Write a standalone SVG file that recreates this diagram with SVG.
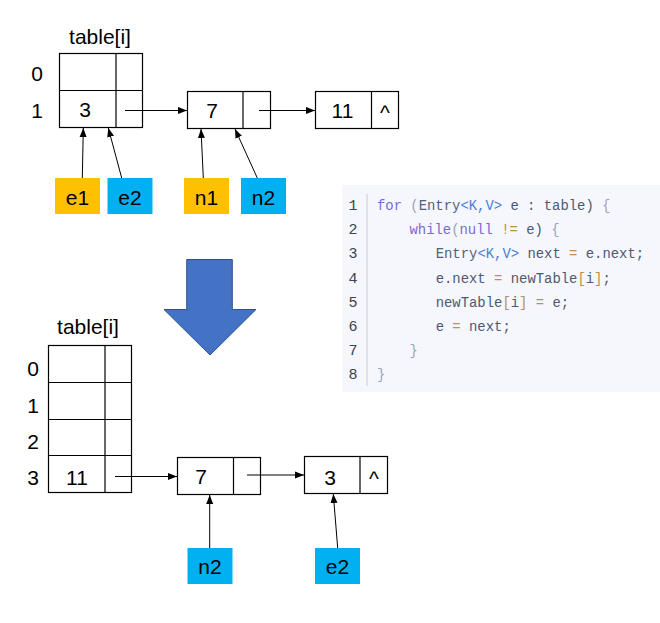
<svg xmlns="http://www.w3.org/2000/svg" width="660" height="623" viewBox="0 0 660 623">
  <style>
    .cell { fill: #ffffff; stroke: #000000; stroke-width: 1.2; }
    .div { stroke: #000000; stroke-width: 1.2; fill: none; }
    .lbl { font-family: "Liberation Sans", Arial, sans-serif; font-size: 21px; fill: #000000; text-anchor: middle; }
    .gold { fill: #FFC000; }
    .cyan { fill: #00B0F0; }
    .conn { stroke: #000000; stroke-width: 1; fill: none; marker-end: url(#head); }
    .code { font-family: "Liberation Mono", "DejaVu Sans Mono", monospace; font-size: 13.9px; fill: #4f5873; }
    .ln { font-family: "Liberation Mono", "DejaVu Sans Mono", monospace; font-size: 15px; fill: #3b4252; text-anchor: middle; }
    .kw { fill: #7a6ad4; }
    .ty { fill: #55607a; }
    .gen { fill: #4c7fd6; }
    .op { fill: #b8924e; }
    .br { fill: #9aa3b8; }
  </style>
  <defs>
    <marker id="head" markerUnits="userSpaceOnUse" markerWidth="10" markerHeight="8" refX="9" refY="4" orient="auto">
      <path d="M0,0.5 L9,4 L0,7.5 Z" fill="#000000"/>
    </marker>
  </defs>

  <!-- top: original table with two buckets -->
  <g id="table-top">
    <text class="lbl" x="100" y="44">table[i]</text>
    <text class="lbl" x="37" y="81">0</text>
    <text class="lbl" x="37" y="117.5">1</text>
    <rect class="cell" x="59.5" y="53.5" width="83" height="74"/>
    <line class="div" x1="59.5" y1="90.5" x2="142.5" y2="90.5"/>
    <line class="div" x1="116" y1="53.5" x2="116" y2="127.5"/>
    <text class="lbl" x="85" y="117">3</text>
  </g>
  <g id="node-top-7">
    <rect class="cell" x="187.5" y="91.5" width="83" height="37"/>
    <line class="div" x1="243" y1="91.5" x2="243" y2="128.5"/>
    <text class="lbl" x="212" y="118">7</text>
  </g>
  <g id="node-top-11">
    <rect class="cell" x="315.5" y="91.5" width="83" height="37"/>
    <line class="div" x1="371.5" y1="91.5" x2="371.5" y2="128.5"/>
    <text class="lbl" x="342.5" y="118">11</text>
    <text class="lbl" x="385" y="120">^</text>
  </g>
  <g id="ptr-e1">
    <rect class="gold" x="55" y="178" width="45" height="36"/>
    <text class="lbl" x="77.5" y="205">e1</text>
  </g>
  <g id="ptr-e2">
    <rect class="cyan" x="107.5" y="178" width="45" height="36"/>
    <text class="lbl" x="130" y="205">e2</text>
  </g>
  <g id="ptr-n1">
    <rect class="gold" x="184" y="178" width="45" height="36"/>
    <text class="lbl" x="206.5" y="205">n1</text>
  </g>
  <g id="ptr-n2">
    <rect class="cyan" x="241" y="178" width="45" height="36"/>
    <text class="lbl" x="263.5" y="205">n2</text>
  </g>

  <!-- transition arrow -->
  <g id="down-arrow">
    <polygon points="186.7,259.5 232.3,259.5 232.3,309.5 256,309.5 210,355 164,309.5 186.7,309.5" fill="#4472C4" stroke="#2F528F" stroke-width="1"/>
  </g>

  <!-- bottom: resized table -->
  <g id="table-bottom">
    <text class="lbl" x="88" y="334">table[i]</text>
    <text class="lbl" x="33" y="376">0</text>
    <text class="lbl" x="33" y="413">1</text>
    <text class="lbl" x="33" y="449">2</text>
    <text class="lbl" x="33" y="485">3</text>
    <rect class="cell" x="48.5" y="345.5" width="83" height="147"/>
    <line class="div" x1="48.5" y1="382.5" x2="131.5" y2="382.5"/>
    <line class="div" x1="48.5" y1="419.5" x2="131.5" y2="419.5"/>
    <line class="div" x1="48.5" y1="455.5" x2="131.5" y2="455.5"/>
    <line class="div" x1="105" y1="345.5" x2="105" y2="492.5"/>
    <text class="lbl" x="77" y="485">11</text>
  </g>
  <g id="node-bottom-7">
    <rect class="cell" x="177.5" y="457.5" width="83" height="37"/>
    <line class="div" x1="233.5" y1="457.5" x2="233.5" y2="494.5"/>
    <text class="lbl" x="201" y="484">7</text>
  </g>
  <g id="node-bottom-3">
    <rect class="cell" x="304.5" y="456.5" width="83" height="37"/>
    <line class="div" x1="360" y1="456.5" x2="360" y2="493.5"/>
    <text class="lbl" x="330" y="485">3</text>
    <text class="lbl" x="374" y="486">^</text>
  </g>
  <g id="ptr-n2-bottom">
    <rect class="cyan" x="187.5" y="548" width="45" height="36"/>
    <text class="lbl" x="210" y="574">n2</text>
  </g>
  <g id="ptr-e2-bottom">
    <rect class="cyan" x="315" y="548" width="45" height="36"/>
    <text class="lbl" x="337.5" y="574">e2</text>
  </g>

  <!-- connectors -->
  <g id="connectors">
    <line class="conn" x1="125" y1="110.5" x2="187" y2="110.5"/>
    <line class="conn" x1="259" y1="110.5" x2="315" y2="110.5"/>
    <line class="conn" x1="82.3" y1="178" x2="83.3" y2="128"/>
    <line class="conn" x1="121.7" y1="178" x2="108.3" y2="128"/>
    <line class="conn" x1="203.3" y1="178" x2="201" y2="129"/>
    <line class="conn" x1="257.3" y1="178" x2="235" y2="129"/>
    <line class="conn" x1="115" y1="476.5" x2="177" y2="476.5"/>
    <line class="conn" x1="247" y1="475" x2="304" y2="475"/>
    <line class="conn" x1="209.7" y1="548" x2="209.7" y2="495"/>
    <line class="conn" x1="337.7" y1="548" x2="333.3" y2="494"/>
  </g>

  <!-- code listing -->
  <g id="code-block">
    <rect x="342" y="185" width="318" height="207" fill="#F5F7FC"/>
    <line x1="367" y1="194" x2="367" y2="386" stroke="#c8ccd6" stroke-width="1"/>
    <text class="ln" x="353" y="210">1</text>
    <text class="ln" x="353" y="234.2">2</text>
    <text class="ln" x="353" y="258.3">3</text>
    <text class="ln" x="353" y="282.5">4</text>
    <text class="ln" x="353" y="306.6">5</text>
    <text class="ln" x="353" y="330.8">6</text>
    <text class="ln" x="353" y="354.9">7</text>
    <text class="ln" x="353" y="379">8</text>
    <text class="code" x="377" y="210" xml:space="preserve"><tspan class="kw">for</tspan><tspan class="br"> (</tspan><tspan class="ty">Entry</tspan><tspan class="gen">&lt;K,V&gt;</tspan> e : table) <tspan class="br">{</tspan></text>
    <text class="code" x="409.5" y="234.2" xml:space="preserve"><tspan class="kw">while</tspan><tspan class="br">(</tspan><tspan class="kw">null</tspan> <tspan class="op">!=</tspan> e) <tspan class="br">{</tspan></text>
    <text class="code" x="435.7" y="258.3" xml:space="preserve"><tspan class="ty">Entry</tspan><tspan class="gen">&lt;K,V&gt;</tspan> next <tspan class="op">=</tspan> e.next;</text>
    <text class="code" x="435.7" y="282.5" xml:space="preserve">e.next <tspan class="op">=</tspan> newTable<tspan class="op">[</tspan>i<tspan class="op">]</tspan>;</text>
    <text class="code" x="435.7" y="306.6" xml:space="preserve">newTable<tspan class="op">[</tspan>i<tspan class="op">]</tspan> <tspan class="op">=</tspan> e;</text>
    <text class="code" x="435.7" y="330.8" xml:space="preserve">e <tspan class="op">=</tspan> next;</text>
    <text class="code" x="409.5" y="354.9"><tspan class="br">}</tspan></text>
    <text class="code" x="377" y="379"><tspan class="br">}</tspan></text>
  </g>
</svg>
